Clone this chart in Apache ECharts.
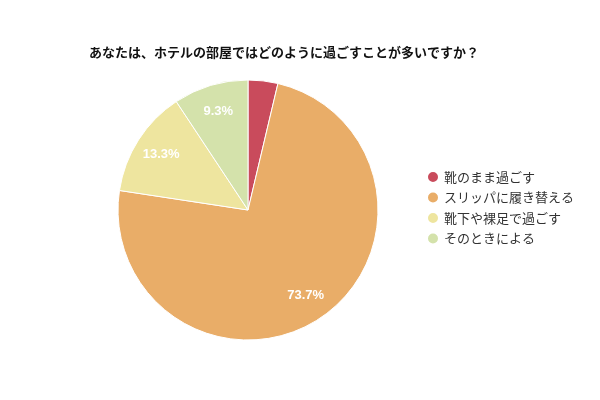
<!DOCTYPE html>
<html><head><meta charset="utf-8">
<script src="https://cdn.jsdelivr.net/npm/echarts@6/dist/echarts.min.js"></script>
<style>html,body{margin:0;padding:0;background:#fff}#c{width:600px;height:400px}</style>
</head><body><div id="c"></div>
<script>
const titleText = 'あなたは、ホテルの部屋ではどのように過ごすことが多いですか？';
const categories = ['靴のまま過ごす', 'スリッパに履き替える', '靴下や裸足で過ごす', 'そのときによる'];
const values = [3.7, 73.7, 13.3, 9.3];
const colors = ['#c94b5c', '#e9ad68', '#eee59f', '#d4e2ab'];

const chart = echarts.init(document.getElementById('c'), null, {renderer: 'canvas'});
const data = categories.map((n, i) => ({name: n, value: values[i], itemStyle: {color: colors[i]}}));
const font = '"Noto Sans CJK JP", "Noto Sans", sans-serif';
chart.setOption({
  animation: false,
  textStyle: {fontFamily: font},
  title: {text: titleText, left: 84, top: 41, textStyle: {fontSize: 13, fontWeight: 'bold', color: '#111', fontFamily: font}},
  legend: {
    orient: 'vertical', left: 426, top: 170, padding: 0, icon: 'circle', itemWidth: 12, itemHeight: 12, itemGap: 6.5,
    textStyle: {fontSize: 13, color: '#333', fontFamily: font},
    data: categories
  },
  series: [{
    type: 'pie', center: [248, 210], radius: [0, 130], startAngle: 90, clockwise: true,
    label: {show: false}, labelLine: {show: false},
    itemStyle: {borderColor: '#fff', borderWidth: 1},
    emphasis: {disabled: true},
    data: data
  }, {
    type: 'pie', center: [248, 210], radius: [70, 130], startAngle: 90, clockwise: true,
    silent: true, minShowLabelAngle: 20,
    itemStyle: {color: 'rgba(0,0,0,0)', borderWidth: 0},
    label: {show: true, position: 'inside', formatter: p => p.value.toFixed(1) + '%', color: '#fff', fontSize: 13, fontWeight: 'bold', fontFamily: '"Liberation Sans", Arial, sans-serif'},
    labelLine: {show: false},
    emphasis: {disabled: true},
    legendHoverLink: false,
    data: categories.map((n, i) => ({name: n + ' ', value: values[i]}))
  }]
});
</script></body></html>
